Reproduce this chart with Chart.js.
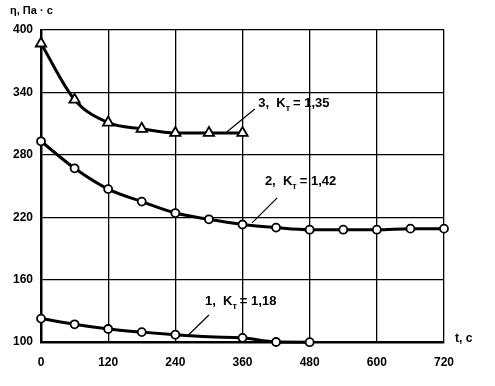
<!DOCTYPE html>
<html lang="ru">
<head>
<meta charset="UTF-8">
<title>Вязкость от времени</title>
<script src="https://cdn.jsdelivr.net/npm/chart.js"></script>
<style>
  html, body { margin: 0; padding: 0; background: #fff; }
  #wrap { position: relative; width: 495px; height: 386px; }
</style>
</head>
<body>
<div id="wrap"><canvas id="chart"></canvas></div>
<script>
// время, с
const times1 = [0, 60, 120, 180, 240, 300, 360, 420, 480];
const times2 = [0, 60, 120, 180, 240, 300, 360, 420, 480, 540, 600, 660, 720];
const times3 = [0, 60, 120, 180, 240, 300, 360];
// вязкость, Па·с
const eta1 = [122.5, 117, 112.5, 109.5, 107, 105, 104, 100, 99.8];
const eta2 = [293, 267, 247, 235, 224, 218, 213, 210, 208, 208, 208, 209, 209];
const eta3 = [387, 333, 311, 305, 301, 301, 301];
const xTicks = [0, 120, 240, 360, 480, 600, 720];
const yTicks = [100, 160, 220, 280, 340, 400];

// подписи кривых: номер, K_т, позиция текста и выноски (в единицах осей)
const curveLabels = [
  { num: '3', k: '1,35', t: 388, v: 329, from: [332, 302], to: [382, 324] },
  { num: '2', k: '1,42', t: 400, v: 254, from: [377, 214.5], to: [422, 238.6] },
  { num: '1', k: '1,18', t: 293, v: 138.6, from: [263, 106.5], to: [300, 126] }
];

const FONT = '"Liberation Sans", Arial, sans-serif';
const toXY = (xs, ys) => xs.map((x, i) => ({ x: x, y: ys[i] }));

const labelsPlugin = {
  id: 'curveLabels',
  afterDatasetsDraw(chart) {
    const ctx = chart.ctx;
    const xs = chart.scales.x, ys = chart.scales.y;
    ctx.save();
    ctx.fillStyle = '#000';
    ctx.strokeStyle = '#000';
    ctx.lineWidth = 1.2;
    curveLabels.forEach(l => {
      ctx.beginPath();
      ctx.moveTo(xs.getPixelForValue(l.from[0]), ys.getPixelForValue(l.from[1]));
      ctx.lineTo(xs.getPixelForValue(l.to[0]), ys.getPixelForValue(l.to[1]));
      ctx.stroke();
      let px = xs.getPixelForValue(l.t);
      const py = ys.getPixelForValue(l.v);
      ctx.textBaseline = 'middle';
      ctx.textAlign = 'left';
      ctx.font = 'bold 13px ' + FONT;
      const head = l.num + ',  K';
      ctx.fillText(head, px, py);
      px += ctx.measureText(head).width;
      ctx.font = 'bold 9px ' + FONT;
      ctx.fillText('т', px, py + 5);
      px += ctx.measureText('т').width + 3;
      ctx.font = 'bold 13px ' + FONT;
      ctx.fillText('= ' + l.k, px, py);
    });
    // подписи осей
    ctx.font = 'bold 11px ' + FONT;
    ctx.fillText('η, Па · с', 10, 11);
    ctx.font = 'bold 12px ' + FONT;
    ctx.fillText('t, с', 455, ys.getPixelForValue(100) - 3);
    ctx.restore();
  }
};

const lineStyle = {
  borderColor: '#000',
  borderWidth: 3,
  backgroundColor: '#fff',
  pointBackgroundColor: '#fff',
  pointBorderColor: '#000',
  pointBorderWidth: 1.8,
  cubicInterpolationMode: 'monotone',
  fill: false,
  clip: false
};

new Chart(document.getElementById('chart'), {
  type: 'line',
  data: {
    datasets: [
      Object.assign({ label: '1', data: toXY(times1, eta1), pointRadius: [4, 4, 4, 4, 4, 0, 4, 4, 4], pointStyle: 'circle' }, lineStyle),
      Object.assign({ label: '2', data: toXY(times2, eta2), pointRadius: 4, pointStyle: 'circle' }, lineStyle),
      Object.assign({ label: '3', data: toXY(times3, eta3), pointRadius: 6, pointStyle: 'triangle' }, lineStyle)
    ]
  },
  options: {
    responsive: true,
    maintainAspectRatio: false,
    animation: false,
    events: [],
    layout: { padding: { top: 30, right: 51, left: 0, bottom: 0 } },
    plugins: { legend: { display: false }, tooltip: { enabled: false } },
    scales: {
      x: {
        type: 'linear',
        min: 0, max: 720,
        afterBuildTicks: s => { s.ticks = xTicks.map(v => ({ value: v })); },
        afterFit: s => { s.height = 44; },
        grid: { color: '#000', lineWidth: 1.3, drawTicks: false },
        border: { color: '#000', width: 2.5 },
        ticks: { color: '#000', padding: 13, font: { family: FONT, size: 12, weight: 'bold' }, maxRotation: 0 }
      },
      y: {
        min: 100, max: 400,
        afterBuildTicks: s => { s.ticks = yTicks.map(v => ({ value: v })); },
        afterFit: s => { s.width = 41; },
        grid: { color: '#000', lineWidth: 1.3, drawTicks: false },
        border: { color: '#000', width: 2.5 },
        ticks: { color: '#000', padding: 8, font: { family: FONT, size: 12, weight: 'bold' } }
      }
    }
  },
  plugins: [labelsPlugin]
});
</script>
</body>
</html>
